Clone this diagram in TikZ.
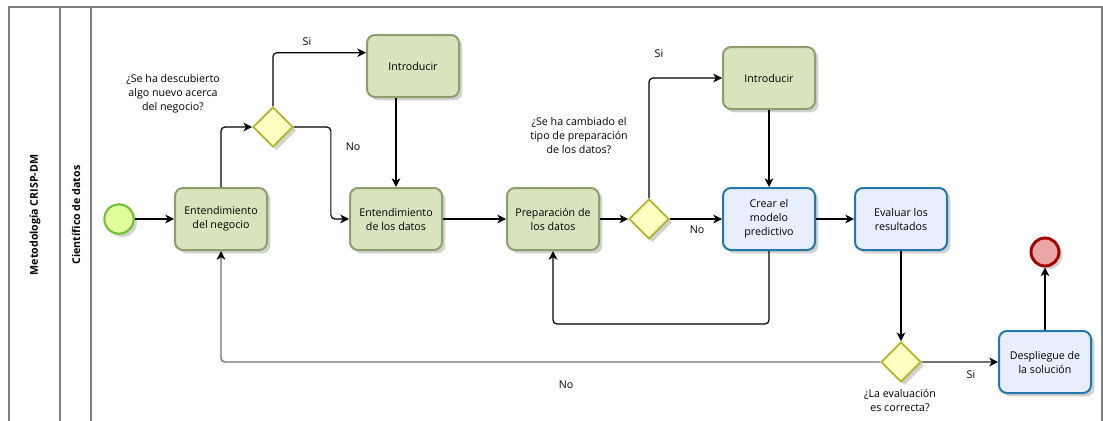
\documentclass[tikz,border=0pt]{standalone}
\usepackage{fontspec}
\setmainfont{Open Sans}
\usetikzlibrary{shapes.geometric,arrows.meta,shadows}
\definecolor{tareaverde}{HTML}{D7E4BD}
\definecolor{bordeverde}{HTML}{8E9E6C}
\definecolor{tareaazul}{HTML}{E9EEFC}
\definecolor{bordeazul}{HTML}{2478AE}
\definecolor{puertafondo}{HTML}{FFFFC4}
\definecolor{puertaborde}{HTML}{B3B32A}
\definecolor{iniciofondo}{HTML}{E2FF9E}
\definecolor{inicioborde}{HTML}{6CBF2E}
\definecolor{finfondo}{HTML}{EBA7A7}
\definecolor{finborde}{HTML}{A50000}
\tikzset{
    sombra/.style={drop shadow={shadow xshift=2.5pt, shadow yshift=-2.5pt, opacity=.18, fill=black}},
    tarea/.style={draw=bordeverde, fill=tareaverde, line width=1.5pt, rounded corners=6pt,
        minimum width=69pt, minimum height=46.5pt, align=center, font=\fontsize{8}{10.5}\selectfont, sombra},
    tareab/.style={tarea, draw=bordeazul, fill=tareaazul},
    puerta/.style={diamond, aspect=1, minimum size=30pt, inner sep=0pt, draw=puertaborde,
        fill=puertafondo, line width=1.3pt, sombra},
    inicio/.style={circle, minimum size=22pt, inner sep=0pt, draw=inicioborde, fill=iniciofondo,
        line width=1.5pt, sombra},
    fin/.style={circle, minimum size=21pt, inner sep=0pt, draw=finborde, fill=finfondo,
        line width=2.2pt, sombra},
    etiqueta/.style={align=center, inner sep=0pt, font=\fontsize{8}{10.5}\selectfont},
    flecha/.style={-{Stealth[length=6.5pt, width=6.5pt, inset=1.8pt, color=black]}, line width=0.9pt, rounded corners=3pt},
    gris/.style={draw=black!55, line width=1.1pt},
    marco/.style={draw=black!50, line width=1.1pt},
    carril/.style={rotate=90, font=\bfseries\fontsize{8}{10}\selectfont}
}
\begin{document}
\begin{tikzpicture}[x=0.75pt, y=-0.75pt]
    \useasboundingbox (0,0) rectangle (1103,421);
    \draw[marco] (9,421) -- (9,7) -- (1102,7) -- (1102,421);
    \draw[marco] (60,7) -- (60,421);
    \draw[marco] (91,7) -- (91,421);
    \node[carril] (pool) at (35,215) {Metodología CRISP-DM};
    \node[carril] (lane) at (76,215) {Científico de datos};

    \node[inicio] (ini) at (119,219) {};
    \node[tarea] (neg) at (221,219) {Entendimiento\\del negocio};
    \node[puerta] (q1) at (273,127) {};
    \node[tarea] (intro1) at (413,66) {Introducir};
    \node[tarea] (datos) at (396,219) {Entendimiento\\de los datos};
    \node[tarea] (prep) at (553,219) {Preparación de\\los datos};
    \node[puerta] (q2) at (649,219) {};
    \node[tarea] (intro2) at (769,78) {Introducir};
    \node[tareab] (modelo) at (769,219) {Crear el\\modelo\\predictivo};
    \node[tareab] (eval) at (901,219) {Evaluar los\\resultados};
    \node[puerta] (q3) at (901,362) {};
    \node[tareab] (despl) at (1045,362) {Despliegue de\\la solución};
    \node[fin] (finp) at (1045,252) {};

    \node[etiqueta] (p1) at (173,94) {¿Se ha descubierto\\algo nuevo acerca\\del negocio?};
    \node[etiqueta] (p2) at (579,136) {¿Se ha cambiado el\\tipo de preparación\\de los datos?};
    \node[etiqueta] (p3) at (900,400) {¿La evaluación\\es correcta?};
    \node[etiqueta] (si1) at (307,42) {Si};
    \node[etiqueta] (no1) at (353,147) {No};
    \node[etiqueta] (si2) at (659,54) {Si};
    \node[etiqueta] (no2) at (697,230) {No};
    \node[etiqueta] (no3) at (566,385) {No};
    \node[etiqueta] (si3) at (971,375) {Si};

    \draw[flecha] (ini) -- (neg);
    \draw[flecha] (neg.north) |- (q1.west);
    \draw[flecha] (q1.north) |- ([yshift=10pt]intro1.west);
    \draw[flecha] (q1.east) -- ++(37,0) |- (datos.west);
    \draw[flecha] (intro1.south -| datos.north) -- (datos.north);
    \draw[flecha] (datos) -- (prep);
    \draw[flecha] (prep) -- (q2);
    \draw[flecha] (q2.north) |- (intro2.west);
    \draw[flecha] (q2) -- (modelo);
    \draw[flecha] (intro2) -- (modelo);
    \draw[flecha] (modelo) -- (eval);
    \draw[flecha] (modelo.south) -- ++(0,73) -| (prep.south);
    \draw[flecha] (eval) -- (q3);
    \draw[flecha, gris] (q3) -- (despl);
    \draw[flecha, gris] (q3.west) -| (neg.south);
    \draw[flecha] (despl) -- (finp);
\end{tikzpicture}
\end{document}
